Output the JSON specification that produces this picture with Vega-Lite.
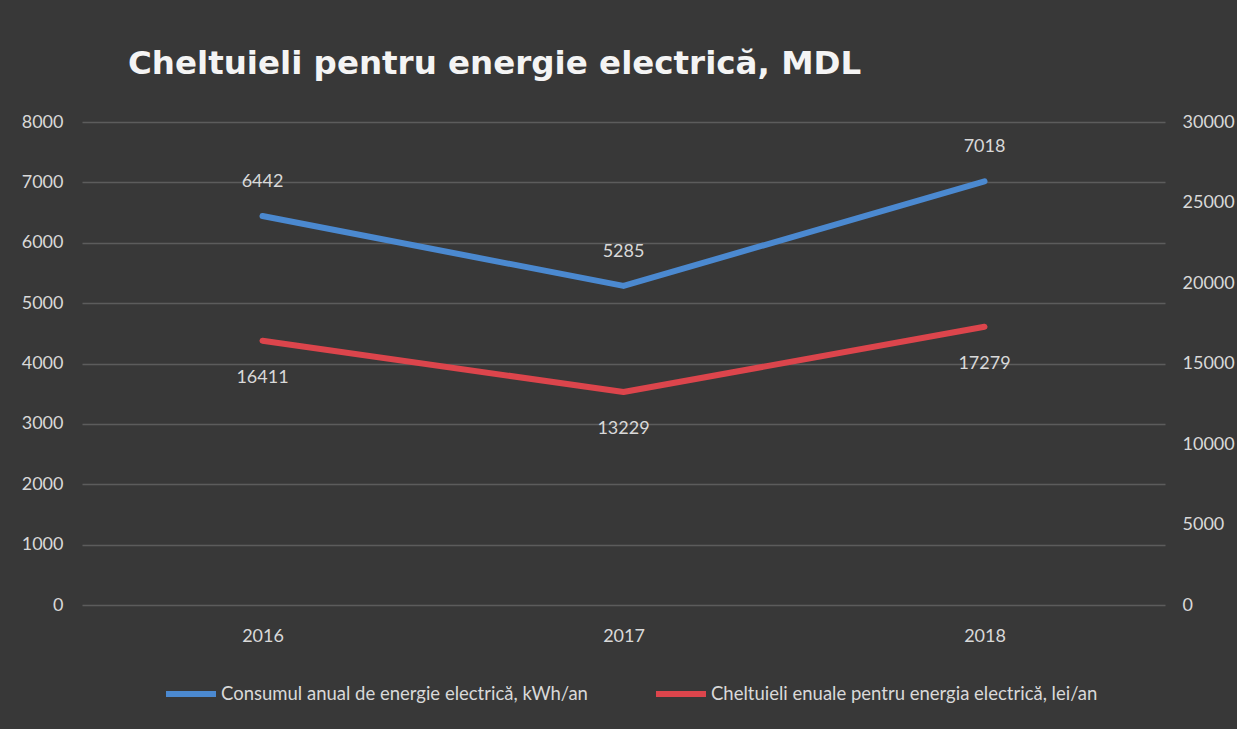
{
  "$schema": "https://vega.github.io/schema/vega-lite/v6.json",
  "width": 1083,
  "height": 483,
  "autosize": {"type": "none"},
  "padding": {"left": 82, "top": 122, "right": 72, "bottom": 124},
  "background": "#383838",
  "title": {
    "text": "Cheltuieli pentru energie electrică, MDL",
    "anchor": "start",
    "frame": "group",
    "dx": 46,
    "offset": 7,
    "baseline": "alphabetic",
    "font": "DejaVu Sans",
    "fontSize": 32.5,
    "fontWeight": "bold",
    "color": "#f4f4f4"
  },
  "data": {
    "values": [
      {"year": "2016", "series": "Consumul anual de energie electrică, kWh/an", "value": 6442},
      {"year": "2017", "series": "Consumul anual de energie electrică, kWh/an", "value": 5285},
      {"year": "2018", "series": "Consumul anual de energie electrică, kWh/an", "value": 7018},
      {"year": "2016", "series": "Cheltuieli enuale pentru energia electrică, lei/an", "value": 16411},
      {"year": "2017", "series": "Cheltuieli enuale pentru energia electrică, lei/an", "value": 13229},
      {"year": "2018", "series": "Cheltuieli enuale pentru energia electrică, lei/an", "value": 17279}
    ]
  },
  "encoding": {
    "x": {
      "field": "year",
      "type": "ordinal",
      "scale": {"type": "point", "padding": 0.5},
      "axis": {"title": null, "labelAngle": 0, "ticks": false, "domain": false, "labelPadding": 22, "grid": false}
    }
  },
  "layer": [
    {
      "transform": [{"filter": "datum.series === 'Consumul anual de energie electrică, kWh/an'"}],
      "encoding": {
        "y": {
          "field": "value",
          "type": "quantitative",
          "scale": {"domain": [0, 8000], "nice": false},
          "axis": {
            "orient": "left",
            "title": null,
            "format": "d",
            "values": [0, 1000, 2000, 3000, 4000, 5000, 6000, 7000, 8000],
            "ticks": false,
            "domain": false,
            "labelPadding": 19,
            "grid": true,
            "gridColor": "#5c5c5c",
            "gridWidth": 1.5
          }
        }
      },
      "layer": [
        {
          "mark": {"type": "line", "strokeWidth": 6, "strokeCap": "round", "strokeJoin": "round"},
          "encoding": {
            "color": {
              "field": "series",
              "type": "nominal",
              "scale": {
                "domain": ["Consumul anual de energie electrică, kWh/an", "Cheltuieli enuale pentru energia electrică, lei/an"],
                "range": ["#4b89d0", "#dc454c"]
              },
              "legend": {
                "orient": "none",
                "legendX": 81,
                "legendY": 544,
                "direction": "horizontal",
                "title": null,
                "symbolType": "stroke",
                "symbolStrokeWidth": 6,
                "symbolSize": 2500,
                "labelFontSize": 18.5,
                "labelFont": "Lato",
                "labelColor": "#d9d9d9",
                "labelOffset": 2,
                "columnPadding": 56,
                "labelLimit": 0,
                "padding": 0
              }
            }
          }
        },
        {
          "mark": {"type": "text", "dy": -34, "baseline": "middle", "font": "Lato", "fontSize": 18, "color": "#d9d9d9"},
          "encoding": {"text": {"field": "value", "type": "quantitative", "format": "d"}}
        }
      ]
    },
    {
      "transform": [{"filter": "datum.series === 'Cheltuieli enuale pentru energia electrică, lei/an'"}],
      "encoding": {
        "y": {
          "field": "value",
          "type": "quantitative",
          "scale": {"domain": [0, 30000], "nice": false},
          "axis": {
            "orient": "right",
            "title": null,
            "format": "d",
            "values": [0, 5000, 10000, 15000, 20000, 25000, 30000],
            "ticks": false,
            "domain": false,
            "labelPadding": 17,
            "grid": false
          }
        }
      },
      "layer": [
        {
          "mark": {"type": "line", "strokeWidth": 6, "strokeCap": "round", "strokeJoin": "round"},
          "encoding": {
            "color": {
              "field": "series",
              "type": "nominal",
              "scale": {
                "domain": ["Consumul anual de energie electrică, kWh/an", "Cheltuieli enuale pentru energia electrică, lei/an"],
                "range": ["#4b89d0", "#dc454c"]
              }
            }
          }
        },
        {
          "mark": {"type": "text", "dy": 37, "baseline": "middle", "font": "Lato", "fontSize": 18, "color": "#d9d9d9"},
          "encoding": {"text": {"field": "value", "type": "quantitative", "format": "d"}}
        }
      ]
    }
  ],
  "resolve": {"scale": {"y": "independent"}},
  "config": {
    "view": {"stroke": null},
    "axis": {
      "labelFont": "Lato",
      "labelFontSize": 18,
      "labelColor": "#d9d9d9"
    }
  }
}
